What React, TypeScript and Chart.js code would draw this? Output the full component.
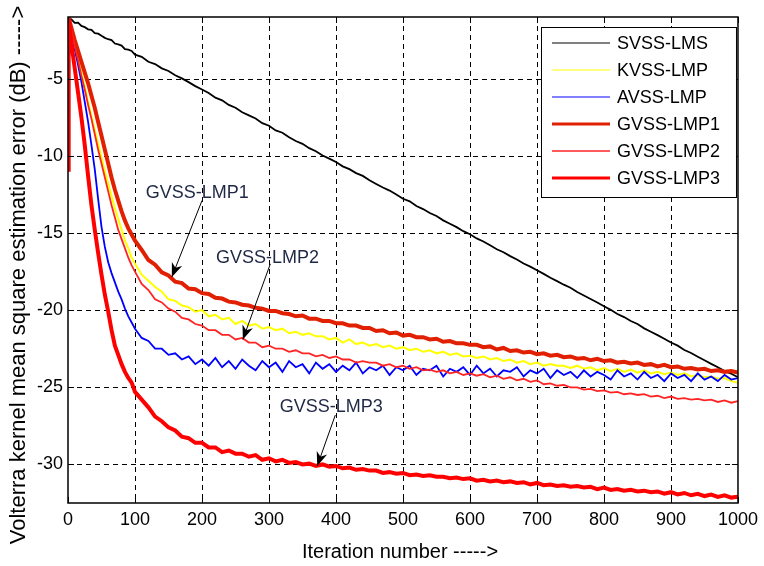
import React, { useEffect, useRef } from 'react';
import { Chart, registerables } from 'chart.js';

Chart.register(...registerables);

const FONT = '"Liberation Sans", Arial, Helvetica, sans-serif';

const ITER = [
  0, 1, 5, 10, 15, 20, 25, 30, 35, 40, 45, 50, 55, 60, 65, 70, 75, 80, 85, 90, 95, 100,
  110, 120, 130, 140, 150, 160, 170, 180, 190, 200,
  210, 220, 230, 240, 250, 260, 270, 280, 290, 300,
  310, 320, 330, 340, 350, 360, 370, 380, 390, 400,
  410, 420, 430, 440, 450, 460, 470, 480, 490, 500,
  510, 520, 530, 540, 550, 560, 570, 580, 590, 600,
  610, 620, 630, 640, 650, 660, 670, 680, 690, 700,
  710, 720, 730, 740, 750, 760, 770, 780, 790, 800,
  810, 820, 830, 840, 850, 860, 870, 880, 890, 900,
  910, 920, 930, 940, 950, 960, 970, 980, 990, 1000,
];

const SVSS_LMS = [
  -1.05, -1.10, -1.15, -1.38, -1.37, -1.58, -1.66, -1.80, -1.83, -2.05, -2.08, -2.22, -2.35, -2.44, -2.50, -2.72, -2.78, -2.85, -3.08, -3.12, -3.20, -3.44,
  -3.58, -3.90, -4.05, -4.33, -4.50, -4.78, -4.98, -5.22, -5.48, -5.70,
  -5.92, -6.23, -6.40, -6.70, -6.88, -7.17, -7.38, -7.58, -7.88, -8.05,
  -8.35, -8.50, -8.80, -9.04, -9.22, -9.50, -9.70, -9.98, -10.18, -10.40,
  -10.68, -10.86, -11.12, -11.30, -11.58, -11.82, -12.05, -12.25, -12.50, -12.78,
  -12.95, -13.25, -13.45, -13.70, -13.90, -14.18, -14.40, -14.62, -14.88, -15.08,
  -15.35, -15.55, -15.80, -16.05, -16.25, -16.50, -16.72, -16.98, -17.18, -17.42,
  -17.65, -17.90, -18.12, -18.35, -18.55, -18.82, -19.05, -19.28, -19.50, -19.75,
  -19.98, -20.25, -20.45, -20.70, -20.90, -21.18, -21.40, -21.62, -21.85, -22.10,
  -22.30, -22.58, -22.78, -23.02, -23.25, -23.48, -23.70, -23.95, -24.12, -24.35,
];

const KVSS_LMP = [
  -1.0, -1.1, -1.9, -2.8, -3.7, -4.6, -5.5, -6.5, -7.4, -8.3, -9.2, -10.1, -11.0, -11.8, -12.6, -13.4, -14.1, -14.8, -15.5, -16.0, -16.6, -17.0,
  -17.7, -18.1, -18.5, -18.8, -19.3, -19.4, -19.7, -19.8, -20.1, -20.0,
  -20.4, -20.3, -20.6, -20.5, -20.9, -20.7, -21.0, -20.9, -21.2, -21.1,
  -21.3, -21.2, -21.5, -21.4, -21.6, -21.5, -21.7, -21.7, -21.9, -21.8,
  -22.1, -21.9, -22.2, -22.1, -22.3, -22.2, -22.4, -22.3, -22.5, -22.4,
  -22.6, -22.5, -22.7, -22.6, -22.8, -22.7, -22.9, -22.8, -23.0, -22.95,
  -23.1, -23.0, -23.2, -23.1, -23.3, -23.2, -23.4, -23.3, -23.5, -23.4,
  -23.6, -23.5, -23.6, -23.6, -23.75, -23.6, -23.8, -23.7, -23.9, -23.75,
  -23.95, -23.8, -24.0, -23.85, -24.05, -23.9, -24.1, -24.0, -24.15, -24.05,
  -24.2, -24.1, -24.3, -24.2, -24.35, -24.3, -24.45, -24.4, -24.6, -24.7,
];

const AVSS_LMP = [
  -1.0, -1.1, -2.1, -3.1, -4.1, -5.2, -6.5, -7.8, -9.3, -10.9, -12.8, -14.6, -15.9, -16.9, -17.6, -18.2, -18.8, -19.3, -19.9, -20.4, -20.8, -21.2,
  -21.8, -22.0, -22.5, -22.5, -22.9, -22.8, -23.2, -23.0, -23.5, -23.2,
  -23.6, -23.1, -23.7, -23.3, -23.8, -23.2, -23.6, -23.9, -23.3, -23.7,
  -23.4, -24.0, -23.3, -23.7, -23.5, -24.1, -23.4, -23.8, -23.5, -24.0,
  -23.6, -23.9, -23.4, -24.1, -23.7, -23.9, -23.6, -24.2, -23.7, -23.9,
  -23.6, -24.2, -23.8, -23.9, -23.6, -24.3, -23.8, -24.0, -23.7, -24.2,
  -23.6, -24.1, -23.8, -24.3, -23.9, -24.0, -23.7, -24.3, -23.9, -24.1,
  -23.8, -24.4, -23.9, -24.2, -24.0, -24.4, -23.9, -24.3, -24.0, -24.2,
  -24.5, -23.9, -24.3, -24.1, -24.5, -24.0, -24.4, -24.2, -24.6, -24.1,
  -24.4, -24.2, -24.6, -24.1, -24.5, -24.3, -24.6, -24.2, -24.5, -24.4,
];

const GVSS_LMP1 = [
  -1.0, -1.05, -1.7, -2.5, -3.2, -3.9, -4.6, -5.3, -6.1, -6.9, -7.8, -8.7, -9.6, -10.5, -11.4, -12.2, -12.9, -13.6, -14.2, -14.7, -15.1, -15.5,
  -16.1, -16.75, -17.05, -17.55, -17.75, -18.15, -18.25, -18.6, -18.65, -18.9,
  -18.95, -19.2, -19.25, -19.45, -19.5, -19.65, -19.7, -19.85, -19.9, -20.05,
  -20.05, -20.2, -20.25, -20.4, -20.35, -20.55, -20.55, -20.7, -20.7, -20.85,
  -20.85, -21.0, -21.0, -21.15, -21.15, -21.35, -21.3, -21.5, -21.45, -21.65,
  -21.6, -21.75, -21.75, -21.9, -21.85, -22.05, -22.0, -22.15, -22.15, -22.25,
  -22.25, -22.4, -22.35, -22.55, -22.45, -22.65, -22.6, -22.75, -22.7, -22.85,
  -22.8, -22.95, -22.9, -23.05, -23.0, -23.15, -23.1, -23.25, -23.15, -23.3,
  -23.25, -23.4, -23.35, -23.45, -23.4, -23.55, -23.5, -23.65, -23.55, -23.7,
  -23.65, -23.8, -23.75, -23.85, -23.8, -23.95, -23.9, -24.0, -23.95, -24.05,
];

const GVSS_LMP2 = [
  -1.0, -1.1, -1.9, -2.9, -3.8, -4.8, -5.7, -6.7, -7.6, -8.6, -9.6, -10.5, -11.4, -12.3, -13.2, -14.0, -14.8, -15.4, -16.0, -16.6, -17.1, -17.5,
  -18.3, -18.7, -19.3, -19.5, -19.9, -20.1, -20.5, -20.6, -20.9, -21.0,
  -21.3, -21.3, -21.6, -21.6, -21.9, -21.8, -22.1, -22.1, -22.4, -22.3,
  -22.5, -22.5, -22.7, -22.6, -22.8, -22.8, -23.0, -22.9, -23.1, -23.0,
  -23.2, -23.2, -23.4, -23.3, -23.4, -23.4, -23.6, -23.5, -23.7, -23.6,
  -23.8, -23.7, -23.9, -23.85, -24.0, -23.9, -24.1, -24.0, -24.2, -24.1,
  -24.25, -24.15, -24.35, -24.25, -24.45, -24.35, -24.55, -24.45, -24.65, -24.55,
  -24.8, -24.75, -24.9, -24.85, -25.0, -25.0, -25.15, -25.1, -25.25, -25.2,
  -25.35, -25.3, -25.45, -25.4, -25.5, -25.45, -25.6, -25.55, -25.7, -25.6,
  -25.75, -25.7, -25.8, -25.75, -25.85, -25.8, -25.95, -25.85, -26.0, -25.9,
];

const GVSS_LMP3 = [
  -10.9, -1.1, -2.7, -4.3, -5.9, -7.5, -9.3, -11.3, -13.2, -14.8, -16.3, -17.7, -19.0, -20.1, -21.3, -22.3, -22.9, -23.5, -24.0, -24.4, -24.7, -25.3,
  -25.8, -26.3, -26.9, -27.2, -27.6, -27.8, -28.2, -28.3, -28.6, -28.6,
  -28.9, -28.9, -29.2, -29.1, -29.3, -29.3, -29.5, -29.4, -29.7, -29.6,
  -29.8, -29.7, -29.9, -29.85, -30.0, -29.95, -30.1, -30.0, -30.15, -30.1,
  -30.25, -30.2, -30.35, -30.3, -30.4, -30.4, -30.55, -30.5, -30.6, -30.55,
  -30.7, -30.65, -30.75, -30.7, -30.8, -30.8, -30.9, -30.85, -30.95, -30.9,
  -31.05, -31.0, -31.1, -31.05, -31.15, -31.1, -31.2, -31.15, -31.3, -31.2,
  -31.35, -31.3, -31.4, -31.35, -31.45, -31.4, -31.5, -31.45, -31.6, -31.5,
  -31.65, -31.6, -31.7, -31.65, -31.75, -31.7, -31.8, -31.75, -31.9, -31.8,
  -31.95, -31.85, -32.0, -31.9, -32.05, -31.95, -32.1, -32.0, -32.15, -32.1,
];

const X_TICKS = [0, 100, 200, 300, 400, 500, 600, 700, 800, 900, 1000];
const Y_TICKS = [-30, -25, -20, -15, -10, -5];

const SERIES_LABELS = ['SVSS-LMS', 'KVSS-LMP', 'AVSS-LMP', 'GVSS-LMP1', 'GVSS-LMP2', 'GVSS-LMP3'];
const SERIES_VALUES = [SVSS_LMS, KVSS_LMP, AVSS_LMP, GVSS_LMP1, GVSS_LMP2, GVSS_LMP3];
const SERIES_COLORS = ['#000000', '#ffff00', '#0000ff', '#e02000', '#ff2424', '#ff0000'];
const SERIES_WIDTHS = [1.8, 2, 1.8, 4, 1.8, 4];
const LEGEND_WIDTHS = [1, 1.2, 1.2, 3, 1.5, 3];

// text callouts: label, text anchor (iteration, dB), arrow tail, arrow tip
const CALLOUTS = [
  { text: 'GVSS-LMP1', at: [116, -12.4], from: [200, -12.9], to: [155, -17.85] },
  { text: 'GVSS-LMP2', at: [221, -16.6], from: [302, -17.0], to: [261, -21.9] },
  { text: 'GVSS-LMP3', at: [316, -26.3], from: [399, -26.8], to: [372, -30.1] },
];

const X_TITLE = 'Iteration number ----->';
const Y_TITLE = 'Volterra kernel mean square estimation error (dB) ----->';

function drawArrow(ctx: CanvasRenderingContext2D, x1: number, y1: number, x2: number, y2: number) {
  ctx.save();
  ctx.strokeStyle = '#000';
  ctx.fillStyle = '#000';
  ctx.lineWidth = 1;
  ctx.beginPath();
  ctx.moveTo(x1, y1);
  ctx.lineTo(x2, y2);
  ctx.stroke();
  const ang = Math.atan2(y2 - y1, x2 - x1);
  const len = 14;
  const half = 5.5;
  const bx = x2 - len * Math.cos(ang);
  const by = y2 - len * Math.sin(ang);
  const nx = x2 - len * 0.7 * Math.cos(ang);
  const ny = y2 - len * 0.7 * Math.sin(ang);
  const px = -Math.sin(ang);
  const py = Math.cos(ang);
  ctx.beginPath();
  ctx.moveTo(x2, y2);
  ctx.lineTo(bx + px * half, by + py * half);
  ctx.lineTo(nx, ny);
  ctx.lineTo(bx - px * half, by - py * half);
  ctx.closePath();
  ctx.fill();
  ctx.restore();
}

const decorPlugin = {
  id: 'matlabDecor',
  beforeDatasetsDraw(chart: any) {
    const { ctx, chartArea: a, scales } = chart;
    const x = scales.x;
    const y = scales.y;
    ctx.save();
    ctx.strokeStyle = '#000';
    ctx.lineWidth = 1;
    ctx.setLineDash([5, 4]);
    for (const v of X_TICKS) {
      if (v <= 0 || v >= 1000) continue;
      const px = Math.round(x.getPixelForValue(v)) + 0.5;
      ctx.beginPath();
      ctx.moveTo(px, a.top);
      ctx.lineTo(px, a.bottom);
      ctx.stroke();
    }
    for (const v of Y_TICKS) {
      const py = Math.round(y.getPixelForValue(v)) + 0.5;
      ctx.beginPath();
      ctx.moveTo(a.left, py);
      ctx.lineTo(a.right, py);
      ctx.stroke();
    }
    ctx.restore();
  },
  afterDatasetsDraw(chart: any) {
    const { ctx, chartArea: a, scales } = chart;
    const x = scales.x;
    const y = scales.y;
    ctx.save();
    // axes box
    ctx.strokeStyle = '#000';
    ctx.lineWidth = 1.5;
    ctx.setLineDash([]);
    ctx.strokeRect(a.left, a.top, a.right - a.left, a.bottom - a.top);
    // inward tick marks on all four sides
    ctx.lineWidth = 1;
    const tl = 6;
    for (const v of X_TICKS) {
      const px = Math.round(x.getPixelForValue(v)) + 0.5;
      ctx.beginPath();
      ctx.moveTo(px, a.bottom);
      ctx.lineTo(px, a.bottom - tl);
      ctx.moveTo(px, a.top);
      ctx.lineTo(px, a.top + tl);
      ctx.stroke();
    }
    for (const v of Y_TICKS) {
      const py = Math.round(y.getPixelForValue(v)) + 0.5;
      ctx.beginPath();
      ctx.moveTo(a.left, py);
      ctx.lineTo(a.left + tl, py);
      ctx.moveTo(a.right, py);
      ctx.lineTo(a.right - tl, py);
      ctx.stroke();
    }

    // callouts
    ctx.font = `18px ${FONT}`;
    ctx.textBaseline = 'middle';
    ctx.textAlign = 'left';
    for (const c of CALLOUTS) {
      drawArrow(
        ctx,
        x.getPixelForValue(c.from[0]), y.getPixelForValue(c.from[1]),
        x.getPixelForValue(c.to[0]), y.getPixelForValue(c.to[1])
      );
    }
    for (const c of CALLOUTS) {
      ctx.fillStyle = '#1e2844';
      ctx.fillText(c.text, x.getPixelForValue(c.at[0]), y.getPixelForValue(c.at[1]));
    }

    // legend (inside, north-east)
    const lx = 541, ly = 27, lw = a.right - 2 - lx, lh = 170;
    ctx.fillStyle = '#fff';
    ctx.fillRect(lx, ly, lw, lh);
    ctx.strokeStyle = '#000';
    ctx.lineWidth = 1;
    ctx.strokeRect(lx + 0.5, ly + 0.5, lw, lh);
    chart.data.datasets.forEach((ds: any, i: number) => {
      const cy = ly + 16 + i * 27;
      ctx.strokeStyle = ds.borderColor;
      ctx.lineWidth = LEGEND_WIDTHS[i];
      ctx.beginPath();
      ctx.moveTo(552, cy);
      ctx.lineTo(610, cy);
      ctx.stroke();
      ctx.fillStyle = '#000';
      ctx.font = `18px ${FONT}`;
      ctx.textAlign = 'left';
      ctx.textBaseline = 'middle';
      ctx.fillText(ds.label, 617, cy + 1);
    });

    // axis titles
    ctx.fillStyle = '#000';
    ctx.font = `20px ${FONT}`;
    ctx.textAlign = 'center';
    ctx.textBaseline = 'alphabetic';
    ctx.fillText(X_TITLE, (a.left + a.right) / 2 - 3, 558);
    ctx.save();
    ctx.font = `22px ${FONT}`;
    ctx.translate(25, 275);
    ctx.rotate(-Math.PI / 2);
    ctx.fillText(Y_TITLE, 0, 0);
    ctx.restore();

    ctx.restore();
  },
};

export default function App() {
  const canvasRef = useRef<HTMLCanvasElement | null>(null);

  useEffect(() => {
    const canvas = canvasRef.current;
    if (!canvas) return;
    const datasets = SERIES_LABELS.map((label, s) => ({
      label,
      data: ITER.map((it, k) => ({ x: it, y: SERIES_VALUES[s][k] })),
      borderColor: SERIES_COLORS[s],
      backgroundColor: SERIES_COLORS[s],
      borderWidth: SERIES_WIDTHS[s],
      pointRadius: 0,
      fill: false,
      tension: 0,
      order: SERIES_LABELS.length - s,
    }));
    const chart = new Chart(canvas, {
      type: 'line',
      data: { datasets },
      options: {
        animation: false,
        responsive: false,
        devicePixelRatio: 1,
        layout: { padding: { top: 17, right: 20, left: 0, bottom: 0 } },
        plugins: { legend: { display: false }, tooltip: { enabled: false } },
        scales: {
          x: {
            type: 'linear',
            min: 0,
            max: 1000,
            afterBuildTicks: (sc: any) => { sc.ticks = X_TICKS.map((v) => ({ value: v })); },
            afterFit: (sc: any) => { sc.height = 63; },
            grid: { display: false, drawTicks: false },
            border: { display: false },
            ticks: {
              color: '#000',
              font: { family: FONT, size: 18 },
              padding: 6,
              maxRotation: 0,
              autoSkip: false,
              callback: (v: any) => String(v),
            },
          },
          y: {
            type: 'linear',
            min: -32.5,
            max: -1,
            afterBuildTicks: (sc: any) => { sc.ticks = Y_TICKS.map((v) => ({ value: v })); },
            afterFit: (sc: any) => { sc.width = 68; },
            grid: { display: false, drawTicks: false },
            border: { display: false },
            ticks: {
              color: '#000',
              font: { family: FONT, size: 18 },
              padding: 5,
              autoSkip: false,
              callback: (v: any) => String(v),
            },
          },
        },
      },
      plugins: [decorPlugin],
    } as any);
    return () => chart.destroy();
  }, []);

  return (
    <div style={{ position: 'fixed', left: 0, top: 0, width: 764, height: 566, background: '#fff' }}>
      <canvas ref={canvasRef} width={764} height={566} style={{ width: 764, height: 566, display: 'block' }} />
    </div>
  );
}
